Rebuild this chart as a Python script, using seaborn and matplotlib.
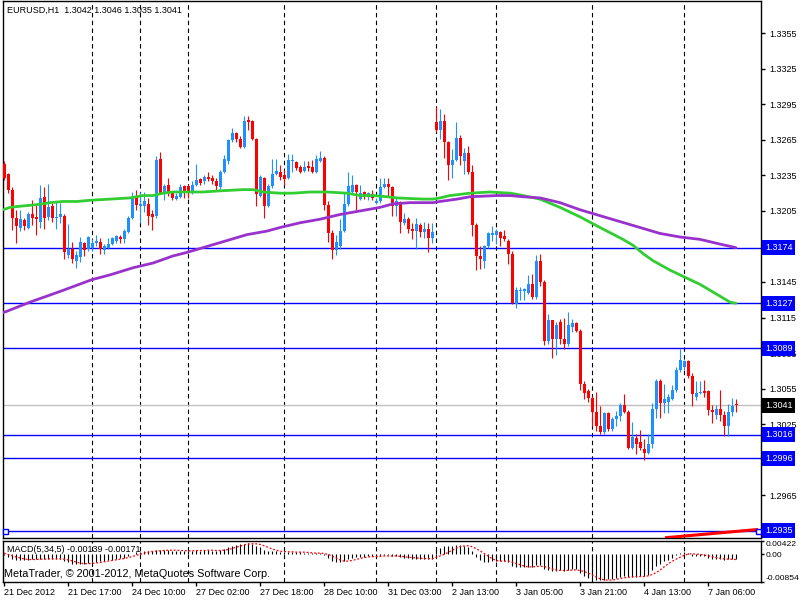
import numpy as np
import matplotlib
matplotlib.use("Agg")
import matplotlib.pyplot as plt
import matplotlib.transforms as mtrans
import seaborn as sns

sns.set_style("white")
plt.rcParams['font.family'] = ['Liberation Sans', 'DejaVu Sans']
plt.rcParams['axes.unicode_minus'] = False

# ---------------- data (EURUSD H1) ----------------
opens = [1.3245, 1.3236, 1.3223, 1.3199, 1.3191, 1.3197, 1.3191, 1.3202, 1.3200, 1.3196,
         1.3217, 1.3200, 1.3209, 1.3199, 1.3200, 1.3201, 1.3168, 1.3173, 1.3163, 1.3166,
         1.3178, 1.3173, 1.3174, 1.3178, 1.3179, 1.3172, 1.3174, 1.3177, 1.3180, 1.3183,
         1.3181, 1.3187, 1.3199, 1.3218, 1.3209, 1.3209, 1.3211, 1.3202, 1.3201, 1.3249,
         1.3221, 1.3227, 1.3220, 1.3215, 1.3217, 1.3226, 1.3226, 1.3221, 1.3227, 1.3232,
         1.3230, 1.3234, 1.3233, 1.3230, 1.3225, 1.3238, 1.3247, 1.3265, 1.3271, 1.3266,
         1.3259, 1.3282, 1.3281, 1.3266, 1.3218, 1.3233, 1.3209, 1.3226, 1.3236, 1.3238,
         1.3235, 1.3233, 1.3247, 1.3246, 1.3242, 1.3239, 1.3243, 1.3242, 1.3238, 1.3247,
         1.3250, 1.3210, 1.3186, 1.3172, 1.3175, 1.3188, 1.3211, 1.3221, 1.3227, 1.3215,
         1.3221, 1.3217, 1.3219, 1.3212, 1.3213, 1.3225, 1.3228, 1.3225, 1.3209, 1.3211,
         1.3195, 1.3198, 1.3190, 1.3188, 1.3193, 1.3187, 1.3190, 1.3182, 1.3280, 1.3273,
         1.3281, 1.3263, 1.3244, 1.3248, 1.3267, 1.3247, 1.3254, 1.3238, 1.3193, 1.3167,
         1.3163, 1.3175, 1.3185, 1.3185, 1.3187, 1.3184, 1.3180, 1.3169, 1.3126, 1.3137,
         1.3137, 1.3136, 1.3143, 1.3132, 1.3163, 1.3145, 1.3095, 1.3113, 1.3097, 1.3111,
         1.3097, 1.3093, 1.3107, 1.3110, 1.3104, 1.3059, 1.3053, 1.3047, 1.3035, 1.3023,
         1.3018, 1.3034, 1.3021, 1.3029, 1.3032, 1.3041, 1.3035, 1.3005, 1.3013, 1.3010,
         1.3004, 1.3001, 1.3008, 1.3038, 1.3061, 1.3043, 1.3044, 1.3046, 1.3054, 1.3071,
         1.3073, 1.3078, 1.3066, 1.3048, 1.3051, 1.3053, 1.3053, 1.3037, 1.3033, 1.3038,
         1.3033, 1.3023, 1.3035, 1.3042]
highs = [1.3247, 1.3237, 1.3225, 1.3206, 1.3206, 1.3199, 1.3204, 1.3214, 1.3210, 1.3227,
         1.3225, 1.3228, 1.3212, 1.3213, 1.3212, 1.3202, 1.3194, 1.3179, 1.3171, 1.3183,
         1.3179, 1.3184, 1.3181, 1.3185, 1.3182, 1.3177, 1.3182, 1.3183, 1.3185, 1.3185,
         1.3190, 1.3201, 1.3221, 1.3223, 1.3221, 1.3221, 1.3216, 1.3206, 1.3251, 1.3255,
         1.3228, 1.3233, 1.3222, 1.3220, 1.3228, 1.3227, 1.3228, 1.3230, 1.3245, 1.3233,
         1.3235, 1.3238, 1.3235, 1.3233, 1.3240, 1.3252, 1.3266, 1.3275, 1.3272, 1.3268,
         1.3285, 1.3285, 1.3282, 1.3267, 1.3235, 1.3234, 1.3228, 1.3249, 1.3249, 1.3244,
         1.3240, 1.3253, 1.3253, 1.3247, 1.3244, 1.3247, 1.3247, 1.3248, 1.3252, 1.3256,
         1.3251, 1.3213, 1.3189, 1.3185, 1.3198, 1.3220, 1.3238, 1.3235, 1.3228, 1.3227,
         1.3222, 1.3221, 1.3223, 1.3216, 1.3233, 1.3233, 1.3233, 1.3226, 1.3216, 1.3213,
         1.3203, 1.3200, 1.3195, 1.3199, 1.3195, 1.3196, 1.3195, 1.3195, 1.3293, 1.3291,
         1.3287, 1.3264, 1.3257, 1.3280, 1.3269, 1.3258, 1.3260, 1.3244, 1.3195, 1.3175,
         1.3176, 1.3187, 1.3192, 1.3190, 1.3188, 1.3189, 1.3181, 1.3171, 1.3141, 1.3141,
         1.3140, 1.3151, 1.3152, 1.3168, 1.3169, 1.3147, 1.3118, 1.3113, 1.3111, 1.3114,
         1.3115, 1.3120, 1.3114, 1.3111, 1.3105, 1.3061, 1.3055, 1.3049, 1.3052, 1.3040,
         1.3035, 1.3035, 1.3031, 1.3036, 1.3043, 1.3050, 1.3037, 1.3027, 1.3017, 1.3020,
         1.3012, 1.3017, 1.3043, 1.3063, 1.3063, 1.3059, 1.3050, 1.3058, 1.3073, 1.3088,
         1.3079, 1.3079, 1.3068, 1.3061, 1.3061, 1.3062, 1.3054, 1.3041, 1.3041, 1.3054,
         1.3036, 1.3042, 1.3047, 1.3046]
lows = [1.3231, 1.3220, 1.3189, 1.3178, 1.3188, 1.3189, 1.3190, 1.3193, 1.3185, 1.3191,
        1.3190, 1.3197, 1.3196, 1.3190, 1.3195, 1.3164, 1.3165, 1.3161, 1.3157, 1.3162,
        1.3167, 1.3171, 1.3171, 1.3175, 1.3169, 1.3169, 1.3173, 1.3176, 1.3178, 1.3178,
        1.3178, 1.3186, 1.3198, 1.3206, 1.3195, 1.3204, 1.3193, 1.3189, 1.3199, 1.3219,
        1.3214, 1.3218, 1.3214, 1.3214, 1.3216, 1.3216, 1.3216, 1.3219, 1.3226, 1.3227,
        1.3228, 1.3230, 1.3228, 1.3223, 1.3223, 1.3237, 1.3245, 1.3263, 1.3263, 1.3258,
        1.3258, 1.3273, 1.3265, 1.3209, 1.3217, 1.3199, 1.3208, 1.3224, 1.3235, 1.3231,
        1.3227, 1.3232, 1.3238, 1.3240, 1.3237, 1.3238, 1.3239, 1.3237, 1.3237, 1.3246,
        1.3206, 1.3179, 1.3164, 1.3168, 1.3173, 1.3187, 1.3209, 1.3220, 1.3206, 1.3214,
        1.3215, 1.3214, 1.3214, 1.3211, 1.3212, 1.3224, 1.3218, 1.3201, 1.3201, 1.3186,
        1.3193, 1.3186, 1.3181, 1.3173, 1.3183, 1.3182, 1.3170, 1.3178, 1.3272, 1.3266,
        1.3250, 1.3231, 1.3233, 1.3247, 1.3244, 1.3236, 1.3236, 1.3184, 1.3155, 1.3156,
        1.3157, 1.3174, 1.3180, 1.3177, 1.3175, 1.3180, 1.3160, 1.3126, 1.3123, 1.3130,
        1.3130, 1.3135, 1.3131, 1.3131, 1.3142, 1.3092, 1.3093, 1.3081, 1.3083, 1.3093,
        1.3088, 1.3091, 1.3103, 1.3103, 1.3054, 1.3046, 1.3044, 1.3023, 1.3019, 1.3017,
        1.3017, 1.3019, 1.3019, 1.3023, 1.3028, 1.3034, 1.3004, 1.3004, 1.3000, 1.3003,
        1.2995, 1.3000, 1.3005, 1.3030, 1.3030, 1.3034, 1.3034, 1.3045, 1.3052, 1.3069,
        1.3071, 1.3064, 1.3040, 1.3045, 1.3050, 1.3048, 1.3033, 1.3026, 1.3029, 1.3028,
        1.3015, 1.3015, 1.3032, 1.3035]
closes = [1.3233, 1.3223, 1.3199, 1.3192, 1.3198, 1.3192, 1.3202, 1.3199, 1.3198, 1.3216,
          1.3199, 1.3208, 1.3199, 1.3200, 1.3202, 1.3170, 1.3173, 1.3164, 1.3168, 1.3179,
          1.3172, 1.3183, 1.3178, 1.3180, 1.3173, 1.3175, 1.3177, 1.3182, 1.3184, 1.3181,
          1.3188, 1.3199, 1.3217, 1.3210, 1.3211, 1.3213, 1.3201, 1.3200, 1.3248, 1.3220,
          1.3226, 1.3220, 1.3216, 1.3218, 1.3225, 1.3221, 1.3220, 1.3227, 1.3231, 1.3229,
          1.3234, 1.3232, 1.3230, 1.3226, 1.3238, 1.3249, 1.3265, 1.3271, 1.3266, 1.3259,
          1.3281, 1.3280, 1.3266, 1.3219, 1.3234, 1.3209, 1.3226, 1.3236, 1.3239, 1.3234,
          1.3232, 1.3248, 1.3248, 1.3241, 1.3238, 1.3242, 1.3241, 1.3238, 1.3249, 1.3250,
          1.3210, 1.3186, 1.3172, 1.3179, 1.3188, 1.3211, 1.3226, 1.3227, 1.3221, 1.3220,
          1.3217, 1.3220, 1.3216, 1.3213, 1.3225, 1.3228, 1.3225, 1.3209, 1.3213, 1.3196,
          1.3198, 1.3190, 1.3188, 1.3194, 1.3187, 1.3190, 1.3182, 1.3187, 1.3273, 1.3281,
          1.3263, 1.3244, 1.3248, 1.3267, 1.3251, 1.3254, 1.3238, 1.3193, 1.3167, 1.3164,
          1.3175, 1.3186, 1.3186, 1.3188, 1.3182, 1.3181, 1.3169, 1.3127, 1.3138, 1.3138,
          1.3139, 1.3143, 1.3132, 1.3163, 1.3145, 1.3095, 1.3113, 1.3097, 1.3109, 1.3097,
          1.3093, 1.3109, 1.3110, 1.3104, 1.3059, 1.3051, 1.3047, 1.3035, 1.3023, 1.3018,
          1.3034, 1.3021, 1.3029, 1.3032, 1.3041, 1.3035, 1.3005, 1.3014, 1.3008, 1.3005,
          1.3001, 1.3008, 1.3038, 1.3061, 1.3043, 1.3046, 1.3048, 1.3054, 1.3071, 1.3079,
          1.3078, 1.3066, 1.3050, 1.3051, 1.3052, 1.3051, 1.3037, 1.3035, 1.3038, 1.3033,
          1.3023, 1.3035, 1.3040, 1.3041]

# moving averages (bar index, price)
green_x = [-0.25, 1.5, 4.0, 7.25, 9.75, 11.5, 14.75, 18.25, 21.5, 26.5, 31.5, 34.75, 37.25, 39.75,
           42.25, 45.75, 49.75, 54.0, 59.75, 62.25, 64.75, 69.0, 72.25, 76.5, 80.75, 85.75, 89.0,
           92.25, 95.75, 98.25, 104.75, 107.25, 109.0, 111.5, 114.0, 116.5, 121.5, 126.5, 128.25,
           129.75, 134.0, 139.0, 144.0, 149.0, 154.75, 157.25, 159.75, 162.25, 166.5, 170.25,
           174.0, 176.5, 179.0, 181.5, 183.0]
green_y = [1.3206, 1.3208, 1.3209, 1.3210, 1.3211, 1.3212, 1.3213, 1.3213, 1.3214, 1.3215,
           1.3216, 1.3218, 1.3218, 1.3220, 1.3221, 1.3221, 1.3221, 1.3222, 1.3223, 1.3223,
           1.3221, 1.3220, 1.3220, 1.3221, 1.3221, 1.3220, 1.3218, 1.3218, 1.3217, 1.3216,
           1.3215, 1.3215, 1.3216, 1.3218, 1.3219, 1.3220, 1.3221, 1.3220, 1.3219, 1.3218,
           1.3215, 1.3208, 1.3200, 1.3191, 1.3181, 1.3176, 1.3169, 1.3163, 1.3155, 1.3149,
           1.3143, 1.3138, 1.3133, 1.3128, 1.3127]
purple_x = [-0.25, 6.5, 14.0, 22.0, 26.5, 32.25, 37.25, 42.25, 45.75, 50.75, 55.75, 60.75, 65.75,
            69.0, 74.0, 79.0, 84.0, 89.0, 94.0, 97.25, 101.5, 107.25, 109.0, 113.25, 116.5,
            123.25, 126.5, 129.75, 134.0, 139.0, 144.0, 149.0, 154.0, 159.0, 164.0, 169.0,
            174.0, 179.0, 183.0]
purple_y = [1.3119, 1.3128, 1.3137, 1.3147, 1.3151, 1.3157, 1.3161, 1.3167, 1.3170, 1.3175,
            1.3180, 1.3185, 1.3188, 1.3191, 1.3195, 1.3198, 1.3202, 1.3205, 1.3208, 1.3211,
            1.3212, 1.3212, 1.3213, 1.3215, 1.3217, 1.3218, 1.3218, 1.3217, 1.3216, 1.3212,
            1.3206, 1.3201, 1.3196, 1.3191, 1.3186, 1.3183, 1.3181, 1.3177, 1.3174]

red_x = [165.25, 188.5]
red_y = [1.2929, 1.2936]

levels = [1.3174, 1.3127, 1.3089, 1.3016, 1.2996, 1.2935]
bid = 1.3041
price_ticks = [1.2935, 1.2965, 1.2995, 1.3025, 1.3055, 1.3085, 1.3115, 1.3145, 1.3175,
               1.3205, 1.3235, 1.3265, 1.3295, 1.3325, 1.3355]
price_tick_labels = ["", "1.2965", "", "1.3025", "1.3055", "1.3085", "1.3115", "1.3145", "",
                     "1.3205", "1.3235", "1.3265", "1.3295", "1.3325", "1.3355"]

macd_hist = [-0.0002, -0.0009, -0.0014, -0.0017, -0.0018, -0.0018, -0.0017, -0.0016, -0.0016, -0.0015,
             -0.0015, -0.0015, -0.0015, -0.0015, -0.0015,
             -0.0022, -0.0026, -0.0030, -0.0032, -0.0031, -0.0030, -0.0028, -0.0026, -0.0024, -0.0023,
             -0.0021, -0.0019, -0.0017, -0.0015, -0.0013, -0.0011, -0.0007,
             0.0001, 0.0005, 0.0007, 0.0009, 0.0009, 0.0008, 0.0013, 0.0013, 0.0013, 0.0012,
             0.0011, 0.0010, 0.0011, 0.0010, 0.0010, 0.0011, 0.0012, 0.0011, 0.0012, 0.0012,
             0.0011, 0.0010, 0.0012,
             0.0016, 0.0021, 0.0026, 0.0029, 0.0030, 0.0031, 0.0033, 0.0032, 0.0026, 0.0021, 0.0013, 0.0009,
             0.0009, 0.0009, 0.0007, 0.0005, 0.0006, 0.0007, 0.0006, 0.0005, 0.0004, 0.0003, 0.0002, 0.0003, 0.0004,
             -0.0003, -0.0013, -0.0022, -0.0026, -0.0026, -0.0021, -0.0016, -0.0012, -0.0010, -0.0009,
             -0.0008, -0.0007, -0.0007, -0.0008, -0.0006, -0.0004, -0.0003, -0.0006, -0.0007, -0.0010,
             -0.0011, -0.0013, -0.0014, -0.0014, -0.0015, -0.0015, -0.0016, -0.0015,
             0.0012, 0.0020, 0.0024, 0.0025, 0.0025, 0.0028, 0.0027, 0.0026, 0.0022, 0.0008,
             -0.0010, -0.0020, -0.0025, -0.0024, -0.0022,
             -0.0021, -0.0021, -0.0022, -0.0025, -0.0036, -0.0040, -0.0041, -0.0041, -0.0039, -0.0039, -0.0033, -0.0034,
             -0.0048, -0.0050, -0.0052, -0.0052, -0.0051, -0.0052, -0.0049, -0.0047, -0.0046,
             -0.0059, -0.0068, -0.0074, -0.0079, -0.0081, -0.0082, -0.0080, -0.0079, -0.0077, -0.0074,
             -0.0070, -0.0068, -0.0072, -0.0071, -0.0070, -0.0069, -0.0068, -0.0064,
             -0.0050, -0.0036, -0.0030, -0.0023, -0.0017, -0.0011, -0.0002, 0.0004, 0.0006, 0.0003,
             -0.0005, -0.0006, -0.0006, -0.0006, -0.0012, -0.0015, -0.0015, -0.0014, -0.0018, -0.0016,
             -0.0014, -0.00139]
macd_signal = [0.0003, -0.0001, -0.0005, -0.0009, -0.0012, -0.0015, -0.0017, -0.0017, -0.0017, -0.0016,
               -0.0016, -0.0015, -0.0015, -0.0015, -0.0015,
               -0.0016, -0.0018, -0.0021, -0.0025, -0.0028, -0.0030, -0.0030, -0.0029, -0.0028, -0.0026,
               -0.0024, -0.0022, -0.0020, -0.0018, -0.0016, -0.0014, -0.0011,
               -0.0008, -0.0004, -0.0001, 0.0003, 0.0006, 0.0008, 0.0009, 0.0010, 0.0011, 0.0012,
               0.0012, 0.0012, 0.0011, 0.0011, 0.0010, 0.0010, 0.0011, 0.0011, 0.0011, 0.0012,
               0.0012, 0.0011, 0.0011,
               0.0012, 0.0014, 0.0017, 0.0021, 0.0025, 0.0028, 0.0031, 0.0032, 0.0032, 0.0030, 0.0026, 0.0021,
               0.0016, 0.0012, 0.0009, 0.0008, 0.0007, 0.0007, 0.0006, 0.0006, 0.0006, 0.0005, 0.0004, 0.0003, 0.0003,
               0.0002, -0.0001, -0.0006, -0.0012, -0.0018, -0.0022, -0.0022, -0.0020, -0.0017, -0.0014,
               -0.0011, -0.0009, -0.0008, -0.0008, -0.0007, -0.0006, -0.0006, -0.0006, -0.0006, -0.0007,
               -0.0008, -0.0010, -0.0011, -0.0012, -0.0013, -0.0014, -0.0014, -0.0015,
               -0.0010, -0.0006, -0.0001, 0.0005, 0.0011, 0.0018, 0.0023, 0.0025, 0.0026, 0.0023,
               0.0017, 0.0010, 0.0002, -0.0006, -0.0014,
               -0.0020, -0.0022, -0.0022, -0.0022, -0.0025, -0.0029, -0.0033, -0.0037, -0.0040, -0.0040, -0.0039, -0.0038,
               -0.0039, -0.0042, -0.0046, -0.0049, -0.0051, -0.0051, -0.0051, -0.0050, -0.0049,
               -0.0051, -0.0054, -0.0059, -0.0065, -0.0071, -0.0077, -0.0080, -0.0081, -0.0081, -0.0079,
               -0.0076, -0.0074, -0.0072, -0.0071, -0.0070, -0.0070, -0.0070, -0.0068,
               -0.0064, -0.0058, -0.0050, -0.0040, -0.0031, -0.0023, -0.0016, -0.0010, -0.0004, 0.0000,
               0.0001, 0.0000, -0.0001, -0.0003, -0.0005, -0.0008, -0.0011, -0.0013, -0.0015, -0.0016,
               -0.0016, -0.00171]

separators = [22, 34, 46, 70, 93, 108, 123, 147, 170]
date_pos = [0, 16, 32, 48, 64, 80, 96, 112, 128, 144, 160, 176]
date_labels = ["21 Dec 2012", "21 Dec 17:00", "24 Dec 10:00", "27 Dec 02:00", "27 Dec 18:00",
               "28 Dec 10:00", "31 Dec 03:00", "2 Jan 13:00", "3 Jan 05:00", "3 Jan 21:00",
               "4 Jan 13:00", "7 Jan 06:00"]

UP = '#1E90FF'
DOWN = '#FF0000'
LEVEL = '#0000FF'

# ---------------- figure ----------------
W, H = 800, 600
fig = plt.figure(figsize=(W / 100, H / 100), dpi=100)
fig.patch.set_facecolor('white')


def rect(x0, y0, x1, y1):
    return [x0 / W, 1 - y1 / H, (x1 - x0) / W, (y1 - y0) / H]


ax = fig.add_axes(rect(2.5, 1, 760.5, 538))
ax2 = fig.add_axes(rect(2.5, 540.5, 760.5, 581.5))

xlim = (-0.375, 189.125)
for a in (ax, ax2):
    a.set_xlim(*xlim)
    a.set_facecolor('white')
    for s in a.spines.values():
        s.set_color('black')
        s.set_linewidth(1)
        s.set_visible(True)
    a.grid(False)
ax.set_ylim(1.29288, 1.33823)
ax2.set_ylim(-0.00854, 0.00422)

# separators
for s in separators:
    ax.axvline(s, color='black', lw=0.8, ls=(0, (4, 3)), zorder=1)
    ax2.axvline(s, color='black', lw=0.8, ls=(0, (4, 3)), zorder=1)

# bid line and levels
ax.axhline(bid, color='#C0C0C0', lw=1, zorder=1)
for lv in levels:
    ax.axhline(lv, color=LEVEL, lw=1, zorder=2)

# candles
o = np.array(opens); h = np.array(highs); l = np.array(lows); c = np.array(closes)
idx = np.arange(len(o))
cols = np.where(c >= o, UP, DOWN)
ax.vlines(idx, l, h, colors=cols, lw=0.8, zorder=3)
body_bottom = np.minimum(o, c)
body_height = np.maximum(np.abs(c - o), 0.00009)
ax.bar(idx, body_height, bottom=body_bottom, width=0.75, color=cols, linewidth=0, zorder=4)

# moving averages
sns.lineplot(x=green_x, y=green_y, ax=ax, color='#32CD32', lw=2, sort=False, estimator=None, zorder=5)
sns.lineplot(x=purple_x, y=purple_y, ax=ax, color='#9932CC', lw=2, sort=False, estimator=None, zorder=5)

# red line near the bottom
ax.plot(red_x, red_y, color='red', lw=2.2, zorder=6, solid_capstyle='butt')
ax.plot([0.25, 188.5], [levels[-1], levels[-1]], ls='none', marker='s', ms=3.6,
        mfc='white', mec=LEVEL, mew=1, zorder=7, clip_on=False)

# price axis
ax.set_xticks([])
ax.set_yticks(price_ticks)
ax.set_yticklabels(price_tick_labels)
ax.tick_params(axis='y', which='both', left=False, right=True, labelleft=False, labelright=True,
               direction='out', length=3, width=1, pad=3, labelsize=6.5, colors='black')
ax.set_ylabel('')
ax.set_xlabel('')

trans = mtrans.blended_transform_factory(ax.transAxes, ax.transData)
for lv in levels:
    ax.text(1.0058, lv, f"{lv:.4f}", transform=trans, ha='left', va='center', fontsize=6.5,
            color='white', clip_on=False, zorder=10,
            bbox=dict(boxstyle='square,pad=0.32', fc=LEVEL, ec='none'))
ax.text(1.0058, bid, f"{bid:.4f}", transform=trans, ha='left', va='center', fontsize=6.5,
        color='white', clip_on=False, zorder=10,
        bbox=dict(boxstyle='square,pad=0.32', fc='black', ec='none'))

# MACD pane
ax2.vlines(idx, 0, macd_hist, color='black', lw=0.8, zorder=3)
sns.lineplot(x=idx, y=macd_signal, ax=ax2, color='red', lw=0.9, linestyle=(0, (1.5, 1.5)),
             sort=False, estimator=None, zorder=4)
ax2.set_ylabel('')
ax2.set_yticks([0.00422, 0.0, -0.00854])
ax2.set_yticklabels(['0.00422', '0.00', '-0.00854'])
ax2.tick_params(axis='y', left=False, right=True, labelleft=False, labelright=True,
                direction='out', length=2, width=1, pad=1.5, labelsize=6.1, colors='black')
yl = ax2.get_yticklabels()
yl[0].set_va('top')
yl[2].set_va('bottom')
ax2.set_xticks(date_pos)
ax2.set_xticklabels(date_labels, ha='left')
ax2.tick_params(axis='x', bottom=True, direction='out', length=3, width=1, pad=2,
                labelsize=6.5, colors='black')

# texts
fig.text(7 / W, 1 - 10 / H, "EURUSD,H1  1.3042 1.3046 1.3035 1.3041", fontsize=6.5,
         va='center', ha='left', color='black')
fig.text(7 / W, 1 - 550 / H, "MACD(5,34,5) -0.00139 -0.00171", fontsize=6.5,
         va='center', ha='left', color='black', zorder=10)
fig.text(4 / W, 1 - 574 / H, "MetaTrader, © 2001-2012, MetaQuotes Software Corp.", fontsize=7.8,
         va='center', ha='left', color='black', zorder=10)

fig.savefig("out.png", dpi=100, facecolor='white')
